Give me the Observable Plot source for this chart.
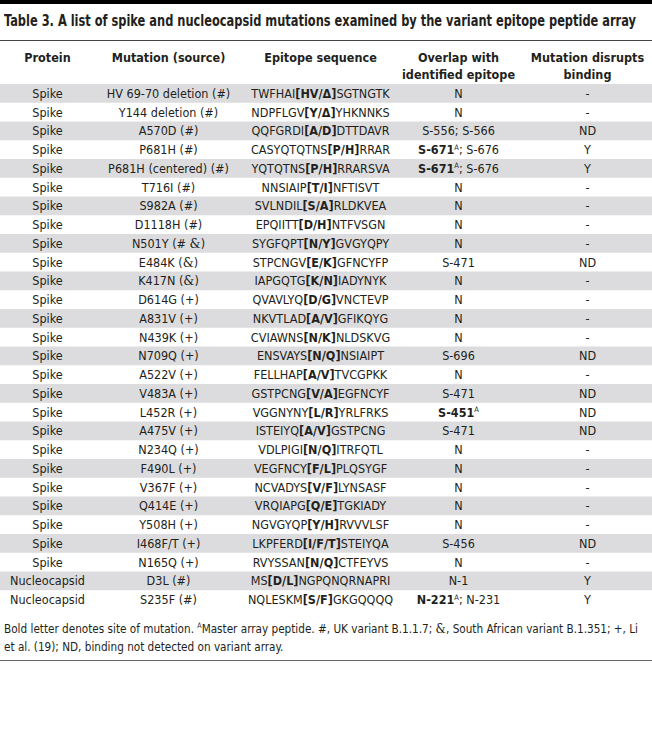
<!DOCTYPE html>
<html>
<head>
<meta charset="utf-8">
<script src="https://cdn.jsdelivr.net/npm/d3@7"></script>
<script src="https://cdn.jsdelivr.net/npm/@observablehq/plot@0.6"></script>
<style>
  html, body { margin: 0; padding: 0; background: #fff; }
  body { width: 652px; height: 730px; position: relative; overflow: hidden;
         font-family: "Liberation Sans Narrow", "DejaVu Sans Condensed", "Liberation Sans", sans-serif; color: #231f20; }
  #bar { position: absolute; left: 0; top: 0; width: 652px; height: 4px; background: #000; }
  #title { position: absolute; left: 4px; top: 12px; font-size: 15px; font-weight: bold; white-space: nowrap; }
  #rule1 { position: absolute; left: 0; top: 40px; width: 652px; height: 1px; background: #444; }
  #chart { position: absolute; left: 0; top: 41px; }
  #foot { position: absolute; left: 4px; top: 617px; font-size: 12.5px; line-height: 18px; white-space: nowrap; }
  #rule2 { position: absolute; left: 0; top: 660px; width: 652px; height: 1px; background: #666; }
  .fit { display: inline-block; transform-origin: 0 50%; }
  .amp { font-family: "DejaVu Serif", serif; }
  sup { font-size: 0.6em; }
</style>
</head>
<body>
<div id="bar"></div>
<div id="title"><span class="fit" data-w="632">Table 3. A list of spike and nucleocapsid mutations examined by the variant epitope peptide array</span></div>
<div id="rule1"></div>
<div id="chart"></div>
<div id="foot"><span class="fit" data-w="634">Bold letter denotes site of mutation. <sup>A</sup>Master array peptide. #, UK variant B.1.1.7; <span class="amp">&amp;</span>, South African variant B.1.351; +, Li</span><br><span class="fit" data-w="282">et al. (19); ND, binding not detected on variant array.</span></div>
<div id="rule2"></div>
<script>
// ---- data ----
const headers = ["Protein", "Mutation (source)", "Epitope sequence", "Overlap with\nidentified epitope", "Mutation disrupts\nbinding"];
const proteins = [
  "Spike","Spike","Spike","Spike","Spike","Spike","Spike","Spike","Spike","Spike",
  "Spike","Spike","Spike","Spike","Spike","Spike","Spike","Spike","Spike","Spike",
  "Spike","Spike","Spike","Spike","Spike","Spike","Nucleocapsid","Nucleocapsid"
];
const mutations = [
  "HV 69-70 deletion (#)","Y144 deletion (#)","A570D (#)","P681H (#)","P681H (centered) (#)",
  "T716I (#)","S982A (#)","D1118H (#)","N501Y (# &)","E484K (&)","K417N (&)","D614G (+)",
  "A831V (+)","N439K (+)","N709Q (+)","A522V (+)","V483A (+)","L452R (+)","A475V (+)",
  "N234Q (+)","F490L (+)","V367F (+)","Q414E (+)","Y508H (+)","I468F/T (+)","N165Q (+)",
  "D3L (#)","S235F (#)"
];
const sequences = [
  "TWFHAI[HV/Δ]SGTNGTK","NDPFLGV[Y/Δ]YHKNNKS","QQFGRDI[A/D]DTTDAVR","CASYQTQTNS[P/H]RRAR",
  "YQTQTNS[P/H]RRARSVA","NNSIAIP[T/I]NFTISVT","SVLNDIL[S/A]RLDKVEA","EPQIITT[D/H]NTFVSGN",
  "SYGFQPT[N/Y]GVGYQPY","STPCNGV[E/K]GFNCYFP","IAPGQTG[K/N]IADYNYK","QVAVLYQ[D/G]VNCTEVP",
  "NKVTLAD[A/V]GFIKQYG","CVIAWNS[N/K]NLDSKVG","ENSVAYS[N/Q]NSIAIPT","FELLHAP[A/V]TVCGPKK",
  "GSTPCNG[V/A]EGFNCYF","VGGNYNY[L/R]YRLFRKS","ISTEIYQ[A/V]GSTPCNG","VDLPIGI[N/Q]ITRFQTL",
  "VEGFNCY[F/L]PLQSYGF","NCVADYS[V/F]LYNSASF","VRQIAPG[Q/E]TGKIADY","NGVGYQP[Y/H]RVVVLSF",
  "LKPFERD[I/F/T]STEIYQA","RVYSSAN[N/Q]CTFEYVS","MS[D/L]NGPQNQRNAPRI","NQLESKM[S/F]GKGQQQQ"
];
const overlaps = [
  "N","N","S-556; S-566","S-671ᴬ; S-676","S-671ᴬ; S-676","N","N","N","N","S-471",
  "N","N","N","N","S-696","N","S-471","S-451ᴬ","S-471","N",
  "N","N","N","N","S-456","N","N-1","N-221ᴬ; N-231"
];
const disrupts = [
  "-","-","ND","Y","Y","-","-","-","-","ND",
  "-","-","-","-","ND","-","ND","ND","ND","-",
  "-","-","-","-","ND","-","Y","Y"
];

// ---- table built from the arrays ----
const rows = proteins.map((p, i) => ({
  i, protein: p, mutation: mutations[i], sequence: sequences[i], overlap: overlaps[i], binding: disrupts[i]
}));
const columns = ["protein", "mutation", "sequence", "overlap", "binding"];

// layout
const W = 652, H = 572;
const colCenter = [47, 168, 320, 458, 587];
const stripe = "#dcdcde";
const ink = "#231f20";

const chart = Plot.plot({
  width: W,
  height: H,
  marginLeft: 0, marginRight: 0, marginTop: 43, marginBottom: 4,
  x: {type: "linear", domain: [0, W], range: [0, W], axis: null},
  y: {type: "band", domain: d3.range(rows.length), padding: 0, round: false, axis: null},
  style: {fontFamily: '"Liberation Sans Narrow", "DejaVu Sans Condensed", "Liberation Sans", sans-serif', fontSize: "12.5px", color: ink, background: "transparent"},
  marks: [
    Plot.barX(rows.filter(d => d.i % 2 === 0), {x1: () => 0, x2: () => W, y: "i", fill: stripe}),
    Plot.text(headers, {
      x: (d, i) => colCenter[i], frameAnchor: "top", lineAnchor: "top", dy: -35,
      text: d => d, fontWeight: "bold", lineHeight: 1.4, fill: ink
    }),
    ...columns.map((c, k) => Plot.text(rows, {
      x: () => colCenter[k], y: "i", text: c, fill: ink, lineAnchor: "middle"
    }))
  ]
});
document.getElementById("chart").appendChild(chart);

// rich text: bold mutation site, bold master-array peptide with superscript A, serif ampersand
const NS = "http://www.w3.org/2000/svg";
chart.querySelectorAll("text").forEach(t => {
  if (t.querySelector("tspan")) return;
  const s = t.textContent;
  if (!/[\[ᴬ&]/.test(s)) return;
  const re = /(\[[^\]]*\])|([A-Z]-\d+)ᴬ|(&)/g;
  const parts = [];
  let last = 0, m;
  while ((m = re.exec(s))) {
    if (m.index > last) parts.push({t: s.slice(last, m.index)});
    if (m[1]) parts.push({t: m[1], bold: true});
    else if (m[2]) { parts.push({t: m[2], bold: true}); parts.push({t: "A", sup: true}); }
    else parts.push({t: "&", serif: true});
    last = re.lastIndex;
  }
  if (last < s.length) parts.push({t: s.slice(last)});
  t.textContent = "";
  let shifted = false;
  for (const p of parts) {
    const ts = document.createElementNS(NS, "tspan");
    ts.textContent = p.t;
    if (p.bold) ts.setAttribute("font-weight", "bold");
    if (p.serif) ts.setAttribute("font-family", '"DejaVu Serif", serif');
    if (p.sup) { ts.setAttribute("font-size", "7.5"); ts.setAttribute("dy", "-4.5"); shifted = true; }
    else if (shifted) { ts.setAttribute("dy", "4.5"); shifted = false; }
    t.appendChild(ts);
  }
});

// fit the condensed title and footnote lines to the reference widths
const fits = [...document.querySelectorAll(".fit")];
const k0 = (() => {
  const el = fits[1];
  return +el.dataset.w / el.getBoundingClientRect().width;
})();
fits.forEach((el, i) => {
  const k = i === 2 ? k0 : +el.dataset.w / el.getBoundingClientRect().width;
  el.style.transform = `scaleX(${k})`;
});
</script>
</body>
</html>
